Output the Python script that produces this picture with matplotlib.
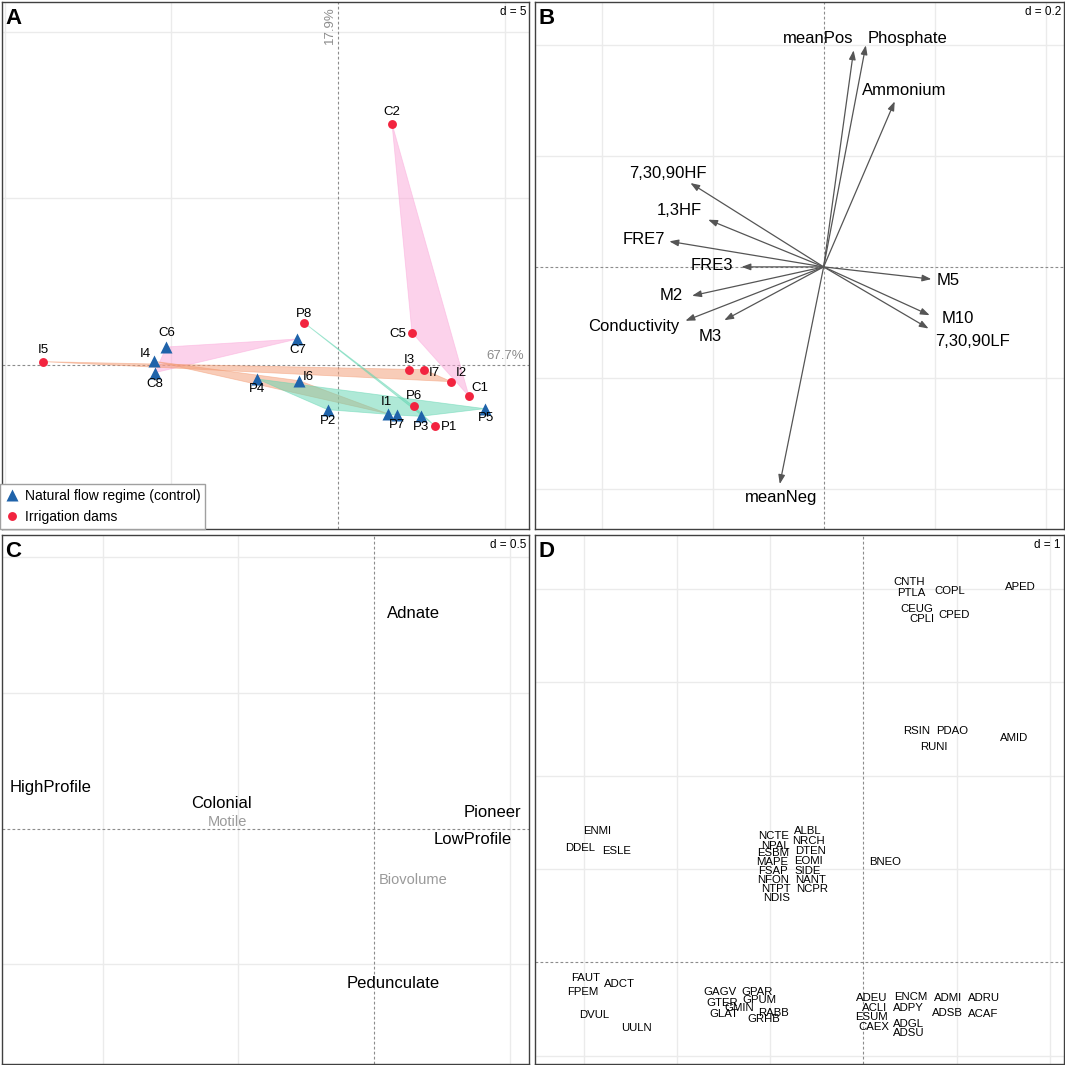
import matplotlib
matplotlib.use("Agg")
import matplotlib.pyplot as plt
from matplotlib.lines import Line2D
import numpy as np

plt.rcParams['font.family'] = ['Liberation Sans', 'DejaVu Sans']

# ---------------- Panel A data (sites) ----------------
site_names = ["C1", "C2", "C5", "C6", "C7", "C8",
              "I1", "I2", "I3", "I4", "I5", "I6", "I7",
              "P1", "P2", "P3", "P4", "P5", "P6", "P7", "P8"]
site_x = [3.93, 1.62, 2.22, -5.15, -1.22, -5.49,
          1.49, 3.40, 2.12, -5.51, -8.84, -1.17, 2.58,
          2.90, -0.31, 2.48, -2.42, 4.40, 2.27, 1.76, -1.02]
site_y = [-0.94, 7.24, 0.97, 0.54, 0.78, -0.23,
          -1.46, -0.50, -0.14, 0.11, 0.10, -0.47, -0.14,
          -1.82, -1.34, -1.54, -0.42, -1.31, -1.24, -1.50, 1.27]
site_treat = ["Irrigation dams", "Irrigation dams", "Irrigation dams",
              "Natural flow regime (control)", "Natural flow regime (control)", "Natural flow regime (control)",
              "Natural flow regime (control)", "Irrigation dams", "Irrigation dams",
              "Natural flow regime (control)", "Irrigation dams", "Natural flow regime (control)", "Irrigation dams",
              "Irrigation dams", "Natural flow regime (control)", "Natural flow regime (control)",
              "Natural flow regime (control)", "Natural flow regime (control)", "Irrigation dams",
              "Natural flow regime (control)", "Irrigation dams"]
treatments = ["Natural flow regime (control)", "Irrigation dams"]
axis1_pct = "67.7%"
axis2_pct = "17.9%"

# ---------------- Panel B data (arrows) ----------------
var_names = ["meanPos", "Phosphate", "Ammonium", "7,30,90HF", "1,3HF", "FRE7", "FRE3",
             "M2", "Conductivity", "M3", "M5", "M10", "7,30,90LF", "meanNeg"]
var_x = [0.054, 0.076, 0.128, -0.240, -0.208, -0.278, -0.148,
         -0.237, -0.249, -0.179, 0.194, 0.191, 0.189, -0.079]
var_y = [0.390, 0.399, 0.298, 0.151, 0.085, 0.046, 0.000,
         -0.052, -0.097, -0.096, -0.022, -0.087, -0.111, -0.391]
var_lab_x = [-0.009, 0.151, 0.146, -0.281, -0.260, -0.324, -0.202,
             -0.275, -0.343, -0.204, 0.224, 0.242, 0.269, -0.077]
var_lab_y = [0.411, 0.412, 0.318, 0.168, 0.101, 0.049, 0.003,
             -0.052, -0.108, -0.126, -0.025, -0.093, -0.135, -0.415]

# ---------------- Panel C data (traits) ----------------
trait_names = ["Adnate", "HighProfile", "Colonial", "Motile", "Pioneer",
               "LowProfile", "Biovolume", "Pedunculate"]
trait_x = [0.143, -1.192, -0.561, -0.539, 0.436, 0.364, 0.143, 0.069]
trait_y = [0.792, 0.151, 0.092, 0.025, 0.059, -0.040, -0.189, -0.572]
trait_signif = [True, True, True, False, True, True, False, True]

# ---------------- Panel D data (taxa) ----------------
taxa_names = ["CNTH", "PTLA", "COPL", "APED", "CEUG", "CPLI", "CPED",
              "RSIN", "PDAO", "RUNI", "AMID",
              "ENMI", "DDEL", "ESLE",
              "NCTE", "NPAL", "ESBM", "MAPE", "FSAP", "NFON", "NTPT", "NDIS",
              "ALBL", "NRCH", "DTEN", "EOMI", "SIDE", "NANT", "NCPR", "BNEO",
              "FAUT", "ADCT", "FPEM", "DVUL", "UULN",
              "GAGV", "GPAR", "GPUM", "GTER", "GMIN", "GLAT", "RABB", "GRHB",
              "ADEU", "ACLI", "ESUM", "CAEX", "ENCM", "ADPY", "ADGL", "ADSU",
              "ADMI", "ADSB", "ADRU", "ACAF"]
taxa_x = [0.486, 0.516, 0.922, 1.686, 0.571, 0.622, 0.966,
          0.574, 0.947, 0.753, 1.613,
          -2.853, -3.039, -2.644,
          -0.962, -0.947, -0.973, -0.977, -0.966, -0.966, -0.933, -0.933,
          -0.593, -0.589, -0.571, -0.593, -0.600, -0.567, -0.549, 0.230,
          -2.981, -2.612, -3.003, -2.882, -2.432,
          -1.536, -1.138, -1.119, -1.518, -1.331, -1.496, -0.962, -1.068,
          0.088, 0.121, 0.084, 0.110, 0.505, 0.479, 0.483, 0.486,
          0.911, 0.896, 1.291, 1.284]
taxa_y = [4.075, 3.961, 3.976, 4.020, 3.786, 3.676, 3.727,
          2.476, 2.476, 2.308, 2.403,
          1.408, 1.229, 1.192,
          1.350, 1.251, 1.170, 1.079, 0.984, 0.885, 0.790, 0.691,
          1.408, 1.302, 1.189, 1.086, 0.977, 0.878, 0.783, 1.079,
          -0.165, -0.234, -0.322, -0.563, -0.706,
          -0.322, -0.322, -0.402, -0.439, -0.486, -0.549, -0.545, -0.611,
          -0.384, -0.490, -0.589, -0.691, -0.369, -0.494, -0.655, -0.757,
          -0.377, -0.541, -0.377, -0.552]

# ---------------- layout / style ----------------
W = 1065.0
GRID_C = "#EBEBEB"
ORIG_C = "#8C8C8C"
SPINE_C = "#404040"


def make_ax(x0, y0, x1, y1):
    return fig.add_axes([x0 / W, 1 - y1 / W, (x1 - x0) / W, (y1 - y0) / W])


def setup(ax, xlim, ylim, d, letter, dlabel):
    ax.set_xlim(*xlim)
    ax.set_ylim(*ylim)
    ax.set_xticks([])
    ax.set_yticks([])
    for s in ax.spines.values():
        s.set_color(SPINE_C)
        s.set_linewidth(1.0)
    gx = np.arange(np.ceil(xlim[0] / d), np.floor(xlim[1] / d) + 1) * d
    gy = np.arange(np.ceil(ylim[0] / d), np.floor(ylim[1] / d) + 1) * d
    for g in gx:
        if abs(g) > 1e-9:
            ax.axvline(g, color=GRID_C, lw=1.0, zorder=0)
    for g in gy:
        if abs(g) > 1e-9:
            ax.axhline(g, color=GRID_C, lw=1.0, zorder=0)
    ax.axvline(0, color=ORIG_C, lw=0.8, ls=(0, (2.5, 2)), zorder=0.5)
    ax.axhline(0, color=ORIG_C, lw=0.8, ls=(0, (2.5, 2)), zorder=0.5)
    ax.annotate(letter, xy=(0, 1), xycoords="axes fraction", xytext=(3, -22),
                textcoords="offset pixels", ha="left", va="baseline",
                fontsize=16, fontweight="bold", color="black")
    ax.annotate(dlabel, xy=(1, 1), xycoords="axes fraction", xytext=(-3, -13),
                textcoords="offset pixels", ha="right", va="baseline",
                fontsize=8.5, color="black")


def convex_hull(pts):
    pts = sorted(set(pts))
    if len(pts) <= 2:
        return pts

    def cross(o, a, b):
        return (a[0] - o[0]) * (b[1] - o[1]) - (a[1] - o[1]) * (b[0] - o[0])
    lower, upper = [], []
    for p in pts:
        while len(lower) >= 2 and cross(lower[-2], lower[-1], p) <= 0:
            lower.pop()
        lower.append(p)
    for p in reversed(pts):
        while len(upper) >= 2 and cross(upper[-2], upper[-1], p) <= 0:
            upper.pop()
        upper.append(p)
    return lower[:-1] + upper[:-1]


fig = plt.figure(figsize=(10.65, 10.65), dpi=100)

# ================= Panel A =================
axA = make_ax(2, 2, 529, 529)
setup(axA, (-10.08, 5.73), (-4.92, 10.89), 5, "A", "d = 5")

river_colors = {"C": "#FBA7D9", "I": "#F39B73", "P": "#61D5B1"}
groups = {}
for n, x, y, t in zip(site_names, site_x, site_y, site_treat):
    groups.setdefault((n[0], t), []).append((x, y))
for (r, t), pts in groups.items():
    h = convex_hull(pts)
    if len(h) >= 3:
        poly = plt.Polygon(h, closed=True, facecolor=river_colors[r], alpha=0.5,
                           edgecolor=river_colors[r], lw=0.6, zorder=1)
        axA.add_patch(poly)

mk = {"Natural flow regime (control)": dict(marker="^", color="#1F63AA", ms=8),
      "Irrigation dams": dict(marker="o", color="#F2243F", ms=6.4)}
for t in treatments:
    xs = [x for x, tt in zip(site_x, site_treat) if tt == t]
    ys = [y for y, tt in zip(site_y, site_treat) if tt == t]
    axA.plot(xs, ys, ls="none", marker=mk[t]["marker"], color=mk[t]["color"],
             ms=mk[t]["ms"], mec="none", zorder=3, label=t)

lab_off = {"C1": (11, 8), "C2": (0, 12), "C5": (-14, -1.5), "C6": (0, 13.5), "C7": (0, -11),
           "C8": (0, -11), "I1": (-1, 11.5), "I2": (10, 8.5), "I3": (1, 10), "I4": (-9, 7.5),
           "I5": (0, 12), "I6": (9, 3.5), "I7": (10, -3), "P1": (14, -1.5), "P2": (0, -11),
           "P3": (0, -10.5), "P4": (0, -10.5), "P5": (1, -9.5), "P6": (0, 10), "P7": (0, -10),
           "P8": (0, 9)}
for n, x, y in zip(site_names, site_x, site_y):
    dx, dy = lab_off[n]
    axA.annotate(n, xy=(x, y), xytext=(dx, dy), textcoords="offset pixels",
                 ha="center", va="center", fontsize=9.5, color="black", zorder=4)

axA.annotate(axis2_pct, xy=(0, 10.89), xytext=(-8, -4), textcoords="offset pixels",
             rotation=90, ha="center", va="top", fontsize=9.5, color="#8C8C8C")
axA.annotate(axis1_pct, xy=(5.73, 0), xytext=(-5, 9), textcoords="offset pixels",
             ha="right", va="center", fontsize=9.5, color="#8C8C8C")

handles = [Line2D([], [], ls="none", marker=mk[t]["marker"], color=mk[t]["color"],
                  ms=mk[t]["ms"], mec="none") for t in treatments]
leg = axA.legend(handles, treatments, loc="lower left", bbox_to_anchor=(-0.004, 0),
                 fontsize=10, frameon=True, fancybox=False, borderaxespad=0,
                 borderpad=0.35, labelspacing=0.5, handletextpad=0.45, handlelength=1.0)
leg.get_frame().set_edgecolor("#A0A0A0")
leg.get_frame().set_linewidth(1.0)
leg.get_frame().set_alpha(1)

# ================= Panel B =================
axB = make_ax(535, 2, 1064, 529)
setup(axB, (-0.52, 0.433), (-0.472, 0.477), 0.2, "B", "d = 0.2")
for n, x, y, lx, ly in zip(var_names, var_x, var_y, var_lab_x, var_lab_y):
    axB.annotate("", xy=(x, y), xytext=(0, 0),
                 arrowprops=dict(arrowstyle="-|>,head_length=0.6,head_width=0.22",
                                 color="#555555", lw=0.9, shrinkA=0, shrinkB=0,
                                 mutation_scale=9), zorder=2)
    axB.text(lx, ly, n, ha="center", va="center", fontsize=12, color="black", zorder=3)

# ================= Panel C =================
axC = make_ax(2, 535, 529, 1064)
setup(axC, (-1.371, 0.570), (-0.867, 1.081), 0.5, "C", "d = 0.5")
for n, x, y, s in zip(trait_names, trait_x, trait_y, trait_signif):
    axC.text(x, y, n, ha="center", va="center",
             fontsize=12 if s else 10.5, color="black" if s else "#9A9A9A", zorder=3)

# ================= Panel D =================
axD = make_ax(535, 535, 1064, 1064)
setup(axD, (-3.52, 2.149), (-1.089, 4.58), 1, "D", "d = 1")
for n, x, y in zip(taxa_names, taxa_x, taxa_y):
    axD.text(x, y, n, ha="center", va="center", fontsize=8.2, color="black", zorder=3)

fig.savefig("out.png", dpi=100, facecolor="white")
